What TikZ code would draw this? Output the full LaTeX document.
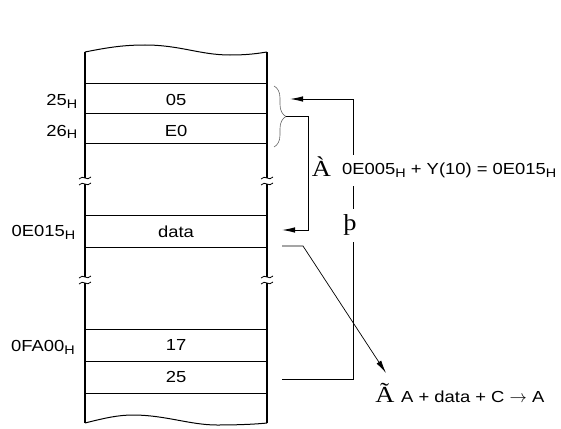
\documentclass[tikz,border=0pt]{standalone}
\usepackage{fontspec}
\setmainfont[FakeStretch=1.15]{Liberation Sans}
\newfontfamily\symfont[FakeStretch=1.15]{Liberation Serif}
\usetikzlibrary{arrows.meta,decorations.pathreplacing}
\newcommand{\hsub}{\raisebox{-2.5pt}{\fontsize{12.5}{12.5}\selectfont H}}

\begin{document}
\begin{tikzpicture}[x=1pt,y=-1pt]

		\def\xl{85}
		\def\xr{267}
		\def\xm{176}

		\tikzset{edge/.style={draw,line width=2pt}}
		\tikzset{sep/.style={draw,line width=1pt}}
		\tikzset{arrow/.style={draw,line width=1pt,-{Latex[length=13pt,width=5.5pt]}}}
		\tikzset{cell/.style={font=\fontsize{16}{16}\selectfont,inner sep=0pt}}
		\tikzset{addr/.style={cell,anchor=east}}
		\tikzset{numsym/.style={font=\symfont\fontsize{23}{23}\selectfont,inner sep=0pt}}

		% Break mark on an edge
		\tikzset{pics/brk/.style={code={%
							\draw[line width=0.8pt] (-6,1) .. controls (-2,-4) and (2,4) .. (6,-1);
						}}}

		\useasboundingbox (0,0) rectangle (561,428);

		\draw[line width=1pt] (\xl,52) .. controls (110,47) and (125,45) .. (145,45) .. controls (180,45) and (200,55) .. (230,55) .. controls (250,55) and (260,53) .. (\xr,52);
		\draw[line width=1pt] (\xl,423) .. controls (105,418) and (118,415) .. (133,415) .. controls (165,415) and (190,425) .. (217,425) .. controls (240,425) and (258,424) .. (\xr,423);

		\foreach \x in {\xl,\xr} {
				\draw[edge] (\x,52) -- (\x,178) (\x,184) -- (\x,277) (\x,283) -- (\x,423);
				\pic at (\x,178) {brk};
				\pic at (\x,184) {brk};
				\pic at (\x,277) {brk};
				\pic at (\x,283) {brk};
			}

		\foreach \y in {83,113,143,215,247,329,361,393}
		\draw[sep] (\xl,\y) -- (\xr,\y);

		\node[cell] (m25) at (\xm,100) {05};
		\node[cell] (m26) at (\xm,131) {E0};
		\node[cell] (mdata) at (\xm,231.5) {data};
		\node[cell] (mfa0) at (\xm,344.5) {17};
		\node[cell] (mfa1) at (\xm,376.5) {25};

		\node[addr] (a25) at (77.5,101.5) {25\hsub};
		\node[addr] (a26) at (77.5,132) {26\hsub};
		\node[addr] (a0e) at (75.5,232.5) {0E015\hsub};
		\node[addr] (afa) at (75,347.5) {0FA00\hsub};

		\coordinate (btop) at (274,86);
		\coordinate (bbot) at (274,147);
		\coordinate (btip) at (286,116.5);
		\coordinate (ptr) at (290,99);
		\coordinate (rline) at (353,99);
		\coordinate (mline) at (308,116.5);
		\coordinate (pdata) at (282,230);
		\coordinate (pdat2) at (282,246);
		\coordinate (dknee) at (303,246);
		\coordinate (dtip) at (386,373);
		\coordinate (p25) at (282,379);

		\draw[decorate,decoration={brace,amplitude=12pt},line width=0.6pt,black!60] (btop) -- (bbot);

		\path[arrow] (p25) -| (rline) -- (ptr);
		\path[arrow] (btip) -- (mline) |- (pdata);
		\path[arrow,line width=0.7pt] (pdat2) -- (dknee) -- (dtip);

		\node[numsym] (n1) at (321.5,167) {À};
		\node[cell,fill=white,anchor=west,minimum height=31pt,inner xsep=1pt] (eq1) at (341,170.5) {0E005\hsub{} + Y(10) = 0E015\hsub};
		\node[numsym,fill=white,minimum height=33pt,inner xsep=1pt] (n2) at (350,225) {þ};
		\node[numsym] (n3) at (385,392.5) {Ã};
		\node[cell,anchor=west] (eq3) at (401,397) {A + data + C $\rightarrow$ A};

	\end{tikzpicture}
\end{document}
